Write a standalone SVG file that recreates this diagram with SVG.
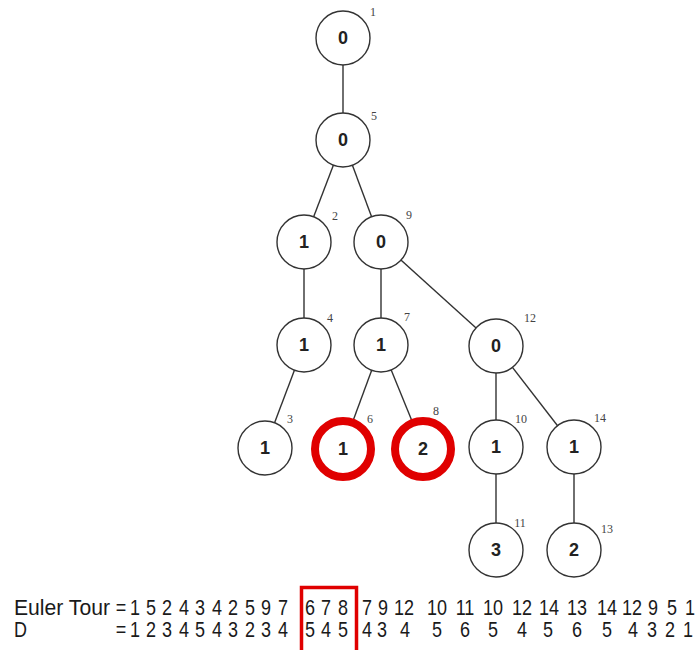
<svg xmlns="http://www.w3.org/2000/svg" width="700" height="650" viewBox="0 0 700 650">
<style>
.n{fill:#fff;stroke:#333;stroke-width:1.4}
.r{fill:#fff;stroke:#e00000;stroke-width:8}
.v{font-family:"Liberation Sans",Arial,sans-serif;font-weight:bold;font-size:18px;fill:#222;text-anchor:middle}
.l{font-family:"Liberation Serif","Times New Roman",serif;font-size:12px;fill:#444;text-anchor:middle}
.e line{stroke:#333;stroke-width:1.4}
.t{font-family:"Liberation Sans",Arial,sans-serif;font-size:18px;fill:#1a1a1a;text-anchor:middle}
.s{font-family:"Liberation Sans",Arial,sans-serif;font-size:18px;fill:#1a1a1a}
</style>
<rect width="700" height="650" fill="#fff"/>
<g id="connectors" class="e">
<line x1="343" y1="38" x2="343" y2="140"/>
<line x1="343" y1="140" x2="304" y2="242"/>
<line x1="343" y1="140" x2="381" y2="242"/>
<line x1="304" y1="242" x2="304" y2="345"/>
<line x1="381" y1="242" x2="381" y2="345"/>
<line x1="381" y1="242" x2="496" y2="346"/>
<line x1="304" y1="345" x2="265" y2="448"/>
<line x1="381" y1="345" x2="343" y2="448"/>
<line x1="381" y1="345" x2="423" y2="448"/>
<line x1="496" y1="346" x2="496" y2="447"/>
<line x1="496" y1="346" x2="574" y2="447"/>
<line x1="496" y1="447" x2="496" y2="550"/>
<line x1="574" y1="447" x2="574" y2="550"/>
</g>
<g id="n1"><circle class="n" cx="343" cy="38" r="27"/><text class="v" x="343" y="44">0</text><text class="l" x="373" y="16">1</text></g>
<g id="n5"><circle class="n" cx="343" cy="140" r="27"/><text class="v" x="343" y="146">0</text><text class="l" x="374" y="120">5</text></g>
<g id="n2"><circle class="n" cx="304" cy="242" r="27"/><text class="v" x="304" y="248">1</text><text class="l" x="335" y="220">2</text></g>
<g id="n9"><circle class="n" cx="381" cy="242" r="27"/><text class="v" x="381" y="248">0</text><text class="l" x="409" y="219">9</text></g>
<g id="n4"><circle class="n" cx="304" cy="345" r="27"/><text class="v" x="304" y="351">1</text><text class="l" x="330" y="322">4</text></g>
<g id="n7"><circle class="n" cx="381" cy="345" r="27"/><text class="v" x="381" y="351">1</text><text class="l" x="407" y="321">7</text></g>
<g id="n12"><circle class="n" cx="496" cy="346" r="27"/><text class="v" x="496" y="352">0</text><text class="l" x="530" y="322">12</text></g>
<g id="n3"><circle class="n" cx="265" cy="448" r="27"/><text class="v" x="265" y="454">1</text><text class="l" x="290" y="423">3</text></g>
<g id="n6"><circle class="r" cx="343" cy="449" r="28"/><text class="v" x="343" y="455">1</text><text class="l" x="370" y="423">6</text></g>
<g id="n8"><circle class="r" cx="423" cy="449" r="28"/><text class="v" x="423" y="455">2</text><text class="l" x="436" y="415">8</text></g>
<g id="n10"><circle class="n" cx="496" cy="447" r="27"/><text class="v" x="496" y="453">1</text><text class="l" x="521" y="423">10</text></g>
<g id="n14"><circle class="n" cx="574" cy="447" r="27"/><text class="v" x="574" y="453">1</text><text class="l" x="600" y="422">14</text></g>
<g id="n11"><circle class="n" cx="496" cy="550" r="27"/><text class="v" x="496" y="556">3</text><text class="l" x="520" y="527">11</text></g>
<g id="n13"><circle class="n" cx="574" cy="550" r="27"/><text class="v" x="574" y="556">2</text><text class="l" x="607" y="533">13</text></g>
<g id="sequences" transform="translate(0,615) scale(1,1.25)">
<text class="s" x="14" y="0" textLength="96" lengthAdjust="spacingAndGlyphs">Euler Tour</text>
<text class="t" x="121" y="0">=</text>
<text class="t" y="0"><tspan x="135">1</tspan><tspan x="151">5</tspan><tspan x="167">2</tspan><tspan x="184">4</tspan><tspan x="200">3</tspan><tspan x="217">4</tspan><tspan x="233">2</tspan><tspan x="250">5</tspan><tspan x="266">9</tspan><tspan x="283">7</tspan><tspan x="310">6</tspan><tspan x="326">7</tspan><tspan x="343">8</tspan><tspan x="367">7</tspan><tspan x="383">9</tspan><tspan x="404">12</tspan><tspan x="437">10</tspan><tspan x="465">11</tspan><tspan x="493">10</tspan><tspan x="522">12</tspan><tspan x="549">14</tspan><tspan x="577">13</tspan><tspan x="607">14</tspan><tspan x="632">12</tspan><tspan x="653">9</tspan><tspan x="672">5</tspan><tspan x="690">1</tspan></text>
<text class="s" x="14" y="18">D</text>
<text class="t" x="121" y="18">=</text>
<text class="t" y="18"><tspan x="135">1</tspan><tspan x="151">2</tspan><tspan x="167">3</tspan><tspan x="184">4</tspan><tspan x="200">5</tspan><tspan x="217">4</tspan><tspan x="233">3</tspan><tspan x="250">2</tspan><tspan x="266">3</tspan><tspan x="283">4</tspan><tspan x="310">5</tspan><tspan x="326">4</tspan><tspan x="343">5</tspan><tspan x="367">4</tspan><tspan x="382">3</tspan><tspan x="405">4</tspan><tspan x="437">5</tspan><tspan x="465">6</tspan><tspan x="493">5</tspan><tspan x="522">4</tspan><tspan x="548">5</tspan><tspan x="577">6</tspan><tspan x="607">5</tspan><tspan x="633">4</tspan><tspan x="652">3</tspan><tspan x="670">2</tspan><tspan x="688">1</tspan></text>
</g>
<rect id="highlight" x="301.5" y="587.5" width="55" height="70" fill="none" stroke="#e00000" stroke-width="3.5"/>
</svg>
